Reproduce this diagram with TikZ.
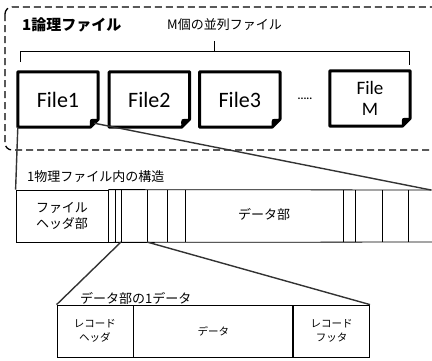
\documentclass[tikz,border=0pt]{standalone}
\usepackage{fontspec}
\setmainfont{Carlito}
\newfontfamily\jp{Noto Sans CJK JP}
\usetikzlibrary{positioning}
\tikzset{
	jptext/.style={font=\jp\fontsize{13}{15}\selectfont, inner sep=0pt},
	smalljp/.style={font=\jp\fontsize{10.5}{14}\selectfont, align=center},
	filebox/.style={minimum width=80pt, minimum height=55pt, inner sep=0pt, align=center, font=\fontsize{22}{22}\selectfont},
	cell/.style={draw, line width=0.8pt, minimum height=52pt, inner sep=0pt, align=center},
	zoomline/.style={line width=1.4pt, black!80},
}
\def\foldedge(#1){\draw[line width=3pt, line join=round] (#1.north west) -- (#1.north east) -- ([yshift=8pt]#1.south east) -- ([xshift=-8pt]#1.south east) -- (#1.south west) -- cycle;
	\fill ([yshift=8pt]#1.south east) -- ([xshift=-8pt]#1.south east) .. controls ([xshift=-9pt,yshift=9pt]#1.south east) .. ([yshift=8pt]#1.south east);}

\begin{document}
\begin{tikzpicture}[x=1pt, y=-1pt]
		\useasboundingbox (0,0) rectangle (432,360);
		%%%%% logical file %%%%%
		
		\draw[dash pattern=on 7pt off 4pt, line width=1.3pt, rounded corners=7pt] (5,7) rectangle (460,150);
		
		\node[jptext, font=\jp\bfseries\fontsize{15}{17}\selectfont, anchor=west] (logical) at (22,25) {1論理ファイル};
		\node[jptext, anchor=west] (parallel) at (167,25) {M個の並列ファイル};
		\draw[line width=1pt] (20,62) -- (20,51) -- (409,51) -- (409,65);
		\draw[line width=1pt] (214,51) -- (214,41);
		
		\node[filebox] (file1) at (58,99.5) {File1};
		\node[filebox, right=11pt of file1] (file2) {File2};
		\node[filebox, right=10pt of file2] (file3) {File3};
		\node[filebox, font=\fontsize{19}{21}\selectfont] (fileM) at (370,98.5) {File\\M};
		\foldedge(file1)
		\foldedge(file2)
		\foldedge(file3)
		\foldedge(fileM)
		\node[font=\bfseries\fontsize{11}{11}\selectfont, inner sep=0pt] (dots) at (305,99) {.....};
		
		%%%%% physical file %%%%%
		
		\node[jptext, anchor=west] (physlabel) at (27,177) {1物理ファイル内の構造};
		\node[cell, minimum width=92pt, font=\jp\fontsize{13}{16}\selectfont] (hdr) at (62,216) {ファイル\\ヘッダ部};
		\draw[line width=0.8pt] (hdr.north east) -- (440,190);
		\draw[line width=0.8pt] (hdr.south east) -- (440,242);
		\foreach \x in {115,121,147,167,185,343,355,382,408}
			\draw[line width=0.8pt] (\x,190) -- (\x,242);
		\node[jptext] (datapart) at (264,214) {データ部};
		
		\coordinate (physNE) at (431,190);
		\coordinate (segL) at (121,242);
		\coordinate (segR) at (147,242);
		
		\draw[zoomline] (file1.south west) -- (hdr.north west);
		\draw[zoomline] ([xshift=-4pt,yshift=4pt]file1.south east) -- (physNE);
		
		%%%%% one record %%%%%
		
		\node[jptext, anchor=west] (reclabel) at (80,298) {データ部の1データ};
		\node[cell, smalljp, minimum width=76pt] (rechead) at (95,331) {レコード\\ヘッダ};
		\node[cell, smalljp, minimum width=159pt, right=0pt of rechead] (recdata) {データ};
		\node[cell, smalljp, minimum width=76pt, right=0pt of recdata] (recfoot) {レコード\\フッタ};
		
		\draw[zoomline] (segL) -- (rechead.north west);
		\draw[zoomline] (segR) -- (recfoot.north east);
		
	\end{tikzpicture}
\end{document}
